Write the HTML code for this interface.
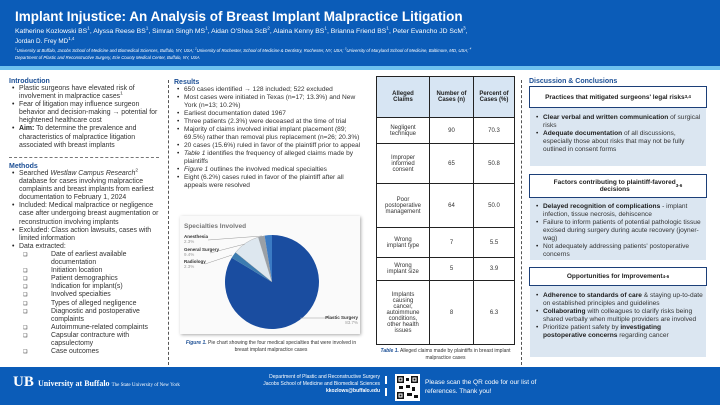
<!DOCTYPE html>
<html><head><meta charset="utf-8"><style>
*{margin:0;padding:0;box-sizing:border-box}
body{width:720px;height:405px;overflow:hidden;background:#fff;font-family:"Liberation Sans",Arial,sans-serif;color:#333;position:relative}
.a{position:absolute}
sup{line-height:0;font-size:70%}
.h{color:#1c4f95;font-weight:bold;font-size:7px}
ul{list-style:none}
li{position:relative;padding-left:10px;font-size:6.3px;line-height:7.8px}
li:before{content:"•";position:absolute;left:3px;color:#222}
.lc li{font-size:6.9px;line-height:8.1px}
.rs li{font-size:6.6px;line-height:8px}
.cb li{padding-left:42px}
.cb li:before{content:"❑";left:14px;font-size:5px}
table{border-collapse:collapse;font-size:6px;text-align:center}
td,th{border:1.3px solid #222;padding:0 2px}
th{background:#d7e5f3;font-weight:bold;color:#222}
.bx{border:1.5px solid #1c3f78;background:#fff;text-align:center;font-size:6.5px;font-weight:bold;color:#222;display:flex;align-items:center;justify-content:center}
.bd{background:#dbe6f1}
.dc li{font-size:6.6px;line-height:8px}
b{color:#222}
</style></head><body>
<div class="a" style="left:0;top:0;width:720px;height:66px;background:#0b5cb8"></div>
<div class="a" style="left:0;top:66px;width:720px;height:4px;background:#6ec1ef"></div>
<div class="a" style="left:15px;top:9px;color:#fff;font-weight:bold;font-size:13.5px">Implant Injustice: An Analysis of Breast Implant Malpractice Litigation</div>
<div class="a" style="left:15px;top:28px;color:#fff;font-size:6.8px;width:700px">Katherine Kozlowski BS<sup>1</sup>, Alyssa Reese BS<sup>1</sup>, Simran Singh MS<sup>1</sup>, Aidan O'Shea ScB<sup>2</sup>, Alaina Kenny BS<sup>1</sup>, Brianna Friend BS<sup>1</sup>, Peter Evancho JD ScM<sup>3</sup>,</div>
<div class="a" style="left:15px;top:38px;color:#fff;font-size:6.3px">Jordan D. Frey MD<sup>1,4</sup></div>
<div class="a" style="left:15px;top:47px;color:#fff;font-size:4.3px;font-style:italic;line-height:7px;width:600px"><sup>1</sup>University at Buffalo, Jacobs School of Medicine and Biomedical Sciences, Buffalo, NY, USA; <sup>2</sup>University of Rochester, School of Medicine &amp; Dentistry, Rochester, NY, USA; <sup>3</sup>University of Maryland School of Medicine, Baltimore, MD, USA; <sup>4</sup><br>Department of Plastic and Reconstructive Surgery, Erie County Medical Center, Buffalo, NY, USA</div>

<div class="a" style="left:168px;top:80px;height:285px;border-left:1px dashed #555"></div>
<div class="a" style="left:521px;top:80px;height:285px;border-left:1px dashed #555"></div>
<div class="a" style="left:9px;top:157px;width:150px;border-top:1.3px dashed #777"></div>

<div class="a lc" style="left:9px;top:78px;width:158px">
<div class="h">Introduction</div>
<ul>
<li>Plastic surgeons have elevated risk of involvement in malpractice cases<sup>1</sup></li>
<li>Fear of litigation may influence surgeon behavior and decision-making → potential for heightened healthcare cost</li>
<li><b>Aim:</b> To determine the prevalence and characteristics of malpractice litigation associated with breast implants</li>
</ul></div>
<div class="a lc" style="left:9px;top:163px;width:158px">
<div class="h">Methods</div>
<ul>
<li>Searched <i>Westlaw Campus Research</i><sup>2</sup> database for cases involving malpractice complaints and breast implants from earliest documentation to February 1, 2024</li>
<li>Included: Medical malpractice or negligence case after undergoing breast augmentation or reconstruction involving implants</li>
<li>Excluded: Class action lawsuits, cases with limited information</li>
<li>Data extracted:</li>
</ul>
<ul class="cb">
<li>Date of earliest available documentation</li><li>Initiation location</li><li>Patient demographics</li><li>Indication for implant(s)</li><li>Involved specialties</li><li>Types of alleged negligence</li><li>Diagnostic and postoperative complaints</li><li>Autoimmune-related complaints</li><li>Capsular contracture with capsulectomy</li><li>Case outcomes</li>
</ul></div>

<div class="a rs" style="left:174px;top:79px;width:188px">
<div class="h">Results</div>
<ul>
<li>650 cases identified → 128 included; 522 excluded</li>
<li>Most cases were initiated in Texas (n=17; 13.3%) and New York (n=13; 10.2%)</li>
<li>Earliest documentation dated 1967</li>
<li>Three patients (2.3%) were deceased at the time of trial</li>
<li>Majority of claims involved initial implant placement (89; 69.5%) rather than removal plus replacement (n=26; 20.3%)</li>
<li>20 cases (15.6%) ruled in favor of the plaintiff prior to appeal</li>
<li><i>Table 1</i> identifies the frequency of alleged claims made by plaintiffs</li>
<li><i>Figure 1</i> outlines the involved medical specialties</li>
<li>Eight (6.2%) cases ruled in favor of the plaintiff after all appeals were resolved</li>
</ul></div>
<div class="a" style="left:180px;top:216px;width:180px;height:118px;background:#fafafa;box-shadow:1px 1px 3px #aaa"></div>
<svg class="a" style="left:0;top:0" width="720" height="405">
<path d="M272,282 L272,235 A47,47 0 1,1 231.7,257.8 Z" fill="#1a4da0"/>
<path d="M272,282 L231.7,257.8 A47,47 0 0,1 235.5,252.4 Z" fill="#3d7cb0"/>
<path d="M272,282 L235.5,252.4 A47,47 0 0,1 258.3,237.1 Z" fill="#dde7ef" stroke="#888" stroke-width=".3"/>
<path d="M272,282 L258.3,237.1 A47,47 0 0,1 264.6,235.6 Z" fill="#9aa0a6"/>
<path d="M272,282 L264.6,235.6 A47,47 0 0,1 272,235 Z" fill="#3b7bc4"/>
<polyline points="208,240 262,236" stroke="#999" fill="none" stroke-width=".5"/>
<polyline points="210,253 245,244" stroke="#999" fill="none" stroke-width=".5"/>
<polyline points="205,264 232,255" stroke="#999" fill="none" stroke-width=".5"/>
<polyline points="300,318 330,318" stroke="#999" fill="none" stroke-width=".5"/>
</svg>
<div class="a" style="left:184px;top:223px;font-size:6.5px;font-weight:bold;color:#777">Specialties Involved</div>
<div class="a" style="left:184px;top:234px;font-size:4.5px;line-height:5px;color:#333;font-weight:bold">Anesthesia<br><span style="color:#999;font-weight:normal">2.3%</span></div>
<div class="a" style="left:184px;top:247px;font-size:4.5px;line-height:5px;color:#333;font-weight:bold">General Surgery<br><span style="color:#999;font-weight:normal">9.4%</span></div>
<div class="a" style="left:184px;top:259px;font-size:4.5px;line-height:5px;color:#333;font-weight:bold">Radiology<br><span style="color:#999;font-weight:normal">2.3%</span></div>
<div class="a" style="left:320px;top:315px;font-size:4.5px;line-height:5px;color:#333;font-weight:bold;text-align:right;width:38px">Plastic Surgery<br><span style="color:#999;font-weight:normal">83.7%</span></div>
<div class="a" style="left:180px;top:340px;width:182px;font-size:5px;text-align:center;line-height:7px"><i style="color:#1c4f95;font-weight:bold">Figure 1.</i> Pie chart showing the four medical specialties that were involved in breast implant malpractice cases</div>

<table class="a" style="left:376px;top:76px;width:139px">
<tr style="height:41px"><th style="width:53px">Alleged<br>Claims</th><th style="width:44px">Number of<br>Cases (n)</th><th>Percent of<br>Cases (%)</th></tr>
<tr style="height:26px"><td>Negligent<br>technique</td><td>90</td><td>70.3</td></tr>
<tr style="height:40px"><td>Improper<br>informed<br>consent</td><td>65</td><td>50.8</td></tr>
<tr style="height:44px"><td>Poor<br>postoperative<br>management</td><td>64</td><td>50.0</td></tr>
<tr style="height:30px"><td>Wrong<br>implant type</td><td>7</td><td>5.5</td></tr>
<tr style="height:23px"><td>Wrong<br>implant size</td><td>5</td><td>3.9</td></tr>
<tr style="height:64px"><td>Implants<br>causing<br>cancer,<br>autoimmune<br>conditions,<br>other health<br>issues</td><td>8</td><td>6.3</td></tr>
</table>
<div class="a" style="left:376px;top:348px;width:139px;font-size:5px;text-align:center;line-height:6.5px"><i style="color:#1c4f95;font-weight:bold">Table 1.</i> Alleged claims made by plaintiffs in breast implant malpractice cases</div>

<div class="a h" style="left:529px;top:78px">Discussion &amp; Conclusions</div>
<div class="a bd" style="left:530px;top:100px;width:176px;height:66px"></div>
<div class="a bx" style="left:529px;top:86px;width:178px;height:22px">Practices that mitigated surgeons' legal risks<sup>3,4</sup></div>
<ul class="a dc" style="left:533px;top:114px;width:172px"><li><b>Clear verbal and written communication</b> of surgical risks</li><li><b>Adequate documentation</b> of all discussions, especially those about risks that may not be fully outlined in consent forms</li></ul>
<div class="a bd" style="left:530px;top:190px;width:176px;height:70px"></div>
<div class="a bx" style="left:529px;top:174px;width:178px;height:24px">Factors contributing to plaintiff-favored<br>decisions<sup>3-6</sup></div>
<ul class="a dc" style="left:533px;top:203px;width:172px"><li><b>Delayed recognition of complications</b> - implant infection, tissue necrosis, dehiscence</li><li>Failure to inform patients of potential pathologic tissue excised during surgery during acute recovery (joyner-wag)</li><li>Not adequately addressing patients' postoperative concerns</li></ul>
<div class="a bd" style="left:530px;top:278px;width:176px;height:79px"></div>
<div class="a bx" style="left:529px;top:267px;width:178px;height:19px">Opportunities for Improvement<sup>4-6</sup></div>
<ul class="a dc" style="left:533px;top:292px;width:172px"><li><b>Adherence to standards of care</b> &amp; staying up-to-date on established principles and guidelines</li><li><b>Collaborating</b> with colleagues to clarify risks being shared verbally when multiple providers are involved</li><li>Prioritize patient safety by <b>investigating postoperative concerns</b> regarding cancer</li></ul>

<div class="a" style="left:0;top:367px;width:720px;height:38px;background:#0b5cb8"></div>
<div class="a" style="left:13px;top:374px;color:#fff;font-weight:bold;font-size:15px;font-family:'Liberation Serif',serif">UB</div>
<div class="a" style="left:38px;top:379px;color:#fff;font-size:8px;font-family:'Liberation Serif',serif;font-weight:bold">University at Buffalo <span style="font-size:5px;font-weight:normal">The State University of New York</span></div>
<div class="a" style="left:180px;top:374px;width:200px;color:#fff;font-size:5px;text-align:right;line-height:6.8px">Department of Plastic and Reconstructive Surgery<br>Jacobs School of Medicine and Biomedical Sciences<br><b style="color:#fff">kkozlows@buffalo.edu</b></div>
<svg class="a" style="left:395px;top:374px" width="25" height="27"><rect width="25" height="27" fill="#fff"/><g fill="#111"><rect x="2" y="2" width="7" height="7"/><rect x="16" y="2" width="7" height="7"/><rect x="2" y="18" width="7" height="7"/><rect x="11" y="4" width="3" height="3"/><rect x="11" y="11" width="4" height="3"/><rect x="17" y="13" width="3" height="4"/><rect x="12" y="19" width="5" height="3"/><rect x="19" y="21" width="4" height="3"/><rect x="4" y="12" width="4" height="3"/></g><g fill="#fff"><rect x="3.5" y="3.5" width="4" height="4"/><rect x="17.5" y="3.5" width="4" height="4"/><rect x="3.5" y="19.5" width="4" height="4"/></g><g fill="#111"><rect x="4.5" y="4.5" width="2" height="2"/><rect x="18.5" y="4.5" width="2" height="2"/><rect x="4.5" y="20.5" width="2" height="2"/></g></svg>
<div class="a" style="left:385px;top:376px;width:1.5px;height:8px;background:#fff"></div>
<div class="a" style="left:385px;top:388px;width:1.5px;height:8px;background:#fff"></div>
<div class="a" style="left:425px;top:379px;color:#fff;font-size:6.5px;line-height:8.5px;width:120px">Please scan the QR code for our list of references. Thank you!</div>
</body></html>
